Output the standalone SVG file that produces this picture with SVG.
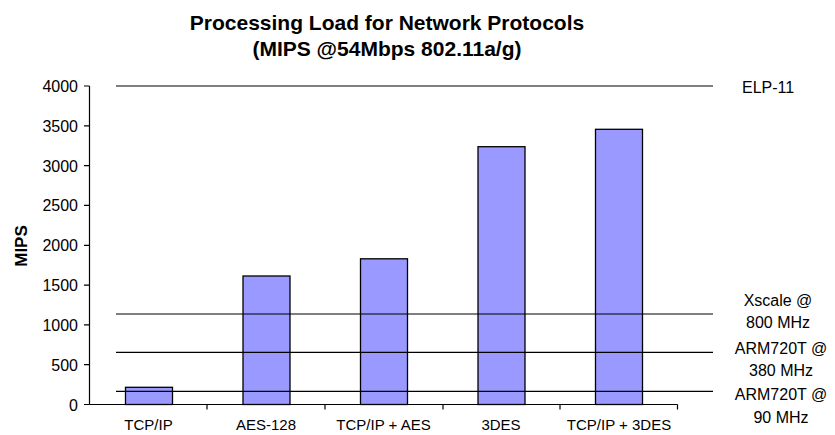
<svg xmlns="http://www.w3.org/2000/svg" width="835" height="435" viewBox="0 0 835 435">
<style>
text{font-family:"Liberation Sans",Arial,sans-serif;fill:#000}
.title{font-size:21px;font-weight:bold;text-anchor:middle}
.ylab{font-size:16px;text-anchor:end}
.xlab{font-size:15px;text-anchor:middle}
.rlab{font-size:16px;text-anchor:middle}
.bar{fill:#9999FF;stroke:#000;stroke-width:1.3}
.ax{stroke:#000;stroke-width:1.2;fill:none}
.ref{stroke:#000;stroke-width:1.2}
</style>
<rect width="835" height="435" fill="#fff"/>
<g id="title">
<text class="title" x="387" y="30">Processing Load for Network Protocols</text>
<text class="title" x="387" y="56">(MIPS @54Mbps 802.11a/g)</text>
</g>
<g id="yaxis">
<path class="ax" d="M89.5 86V404.5M84 86H89.5M84 125.8H89.5M84 165.6H89.5M84 205.4H89.5M84 245.3H89.5M84 285.1H89.5M84 324.9H89.5M84 364.7H89.5M84 404.5H89.5"/>
<text class="ylab" x="78" y="92">4000</text>
<text class="ylab" x="78" y="131.8">3500</text>
<text class="ylab" x="78" y="171.6">3000</text>
<text class="ylab" x="78" y="211.4">2500</text>
<text class="ylab" x="78" y="251.3">2000</text>
<text class="ylab" x="78" y="291.1">1500</text>
<text class="ylab" x="78" y="330.9">1000</text>
<text class="ylab" x="78" y="370.7">500</text>
<text class="ylab" x="78" y="410.5">0</text>
<text x="0" y="0" transform="translate(27,246) rotate(-90)" font-size="17" font-weight="bold" text-anchor="middle">MIPS</text>
</g>
<g id="bars">
<rect id="bar-tcpip" class="bar" x="125.5" y="387.3" width="47" height="17.2"/>
<rect id="bar-aes128" class="bar" x="243" y="276" width="47" height="128.5"/>
<rect id="bar-tcpip-aes" class="bar" x="360.5" y="258.8" width="47" height="145.7"/>
<rect id="bar-3des" class="bar" x="478" y="146.7" width="47" height="257.8"/>
<rect id="bar-tcpip-3des" class="bar" x="595.5" y="129.3" width="47" height="275.2"/>
</g>
<g id="xaxis">
<path class="ax" d="M89.5 404.5H677.5M207 404.5V409.5M325 404.5V409.5M443 404.5V409.5M560 404.5V409.5M677.5 404.5V409.5"/>
<text class="xlab" x="148.5" y="430">TCP/IP</text>
<text class="xlab" x="266" y="430">AES-128</text>
<text class="xlab" x="383.5" y="430">TCP/IP + AES</text>
<text class="xlab" x="501" y="430">3DES</text>
<text class="xlab" x="619" y="430">TCP/IP + 3DES</text>
</g>
<g id="connectors">
<line class="ref" x1="116" y1="86" x2="713" y2="86"/>
<line class="ref" x1="116" y1="314" x2="713" y2="314"/>
<line class="ref" x1="116" y1="352.3" x2="713" y2="352.3"/>
<line class="ref" x1="116" y1="391.3" x2="713" y2="391.3"/>
</g>
<g id="label-elp11"><text x="742" y="93" font-size="16">ELP-11</text></g>
<g id="label-xscale">
<text class="rlab" x="778" y="306">Xscale @</text>
<text class="rlab" x="778" y="328">800 MHz</text>
</g>
<g id="label-arm380">
<text class="rlab" x="781" y="354">ARM720T @</text>
<text class="rlab" x="781" y="376">380 MHz</text>
</g>
<g id="label-arm90">
<text class="rlab" x="781" y="400">ARM720T @</text>
<text class="rlab" x="781" y="423">90 MHz</text>
</g>
</svg>
